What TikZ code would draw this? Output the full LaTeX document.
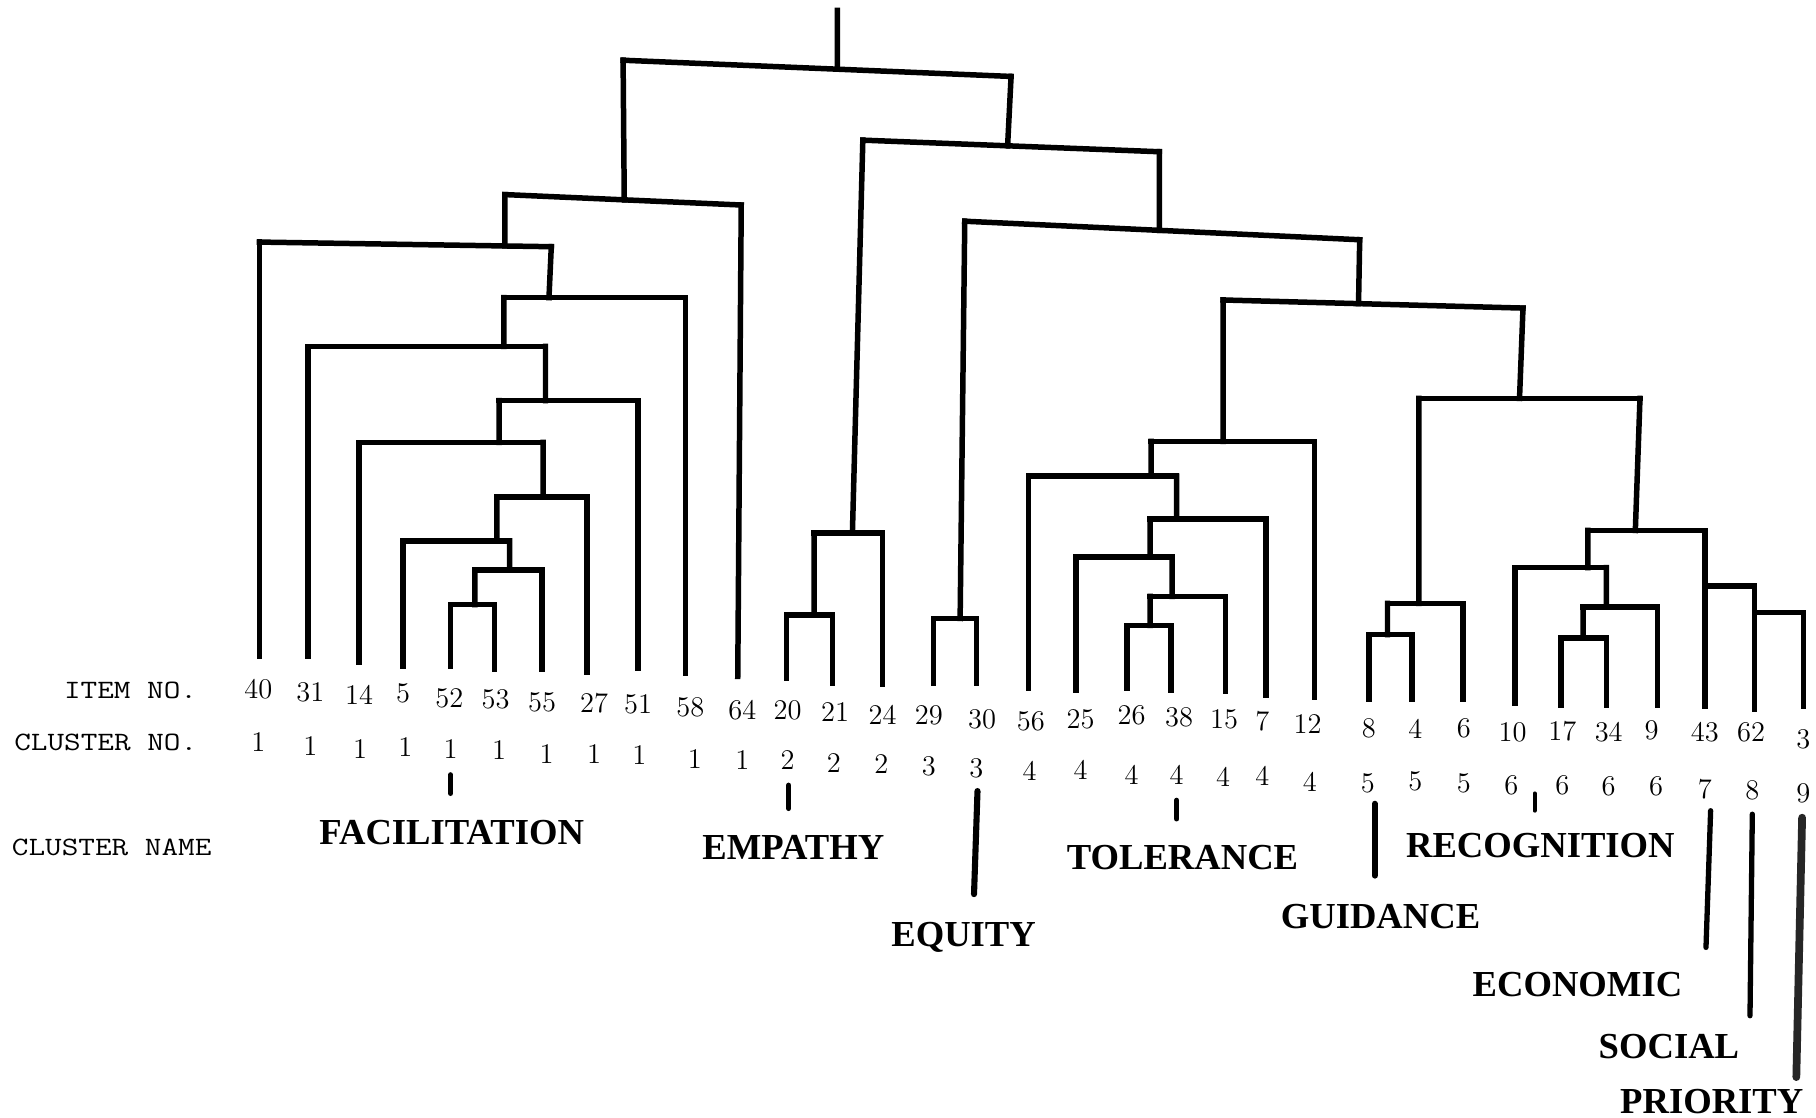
\documentclass[tikz,border=0pt]{standalone}
\usepackage{fontspec}
\usepackage{graphicx}
\usetikzlibrary{calc}
\newfontfamily\namefont{Liberation Serif}
\tikzset{
  br/.style={line width=2.7pt, line cap=rect},
  itm/.style={font=\fontsize{14}{16}\selectfont, inner sep=0pt},
  cln/.style={font=\fontsize{14}{16}\selectfont, inner sep=0pt},
  cname/.style={font=\namefont\bfseries\fontsize{18}{20}\selectfont, inner sep=0pt, anchor=base},
  hdr/.style={font=\ttfamily\fontsize{13}{15}\selectfont, inner sep=0pt, anchor=west},
  ptr/.style={line width=2.6pt, line cap=round},
}
% name, xL, yL, xR, yR, xstem
\newcommand\dmerge[6]{%
  \coordinate (#1-L) at (#2,#3);
  \coordinate (#1-R) at (#4,#5);
  \coordinate (#1-s) at ($(#1-L)!{(#6-#2)/(#4-#2)}!(#1-R)$);
  \draw[br] (#1-L) -- (#1-R);
}
% item, xleaf, ybottom, xlabel, ylabel, xcl, ycl, cluster no
\newcommand\dleaf[8]{%
  \coordinate (lf#1) at (#2,#3);
  \node[itm] (it#1) at (#4,#5) {#1};
  \node[cln] (cl#1) at (#6,#7) {#8};
}
\begin{document}
\begin{tikzpicture}[x=0.02cm,y=-0.02cm]
\fill[white] (0,0) rectangle (1568,965);
\useasboundingbox (0,0) rectangle (1568,965);

% headers
\node[hdr] (hItem) at (55,596) {\scalebox{1.22}[1]{ITEM NO.}};
\node[hdr] (hClNo) at (12,641) {\scalebox{1.22}[1]{CLUSTER NO.}};
\node[hdr] (hClName) at (10,732) {\scalebox{1.22}[1]{CLUSTER NAME}};

% leaves
\dleaf{40}{224}{567}{223}{595}{223}{641}{1}
\dleaf{31}{266}{567}{268}{598}{268}{644}{1}
\dleaf{14}{310}{572}{310}{600}{311}{647}{1}
\dleaf{5}{348}{575}{348}{599}{350}{645}{1}
\dleaf{52}{389}{575}{388}{603}{389}{647}{1}
\dleaf{53}{427}{578}{428}{604}{431}{648}{1}
\dleaf{55}{468}{578}{468}{606}{472}{651}{1}
\dleaf{27}{507}{580}{513}{607}{513}{651}{1}
\dleaf{51}{551}{577}{551}{608}{552}{652}{1}
\dleaf{58}{592}{581}{596}{611}{600}{655}{1}
\dleaf{64}{637}{584}{641}{613}{641}{656}{1}
\dleaf{20}{679}{586}{680}{613}{680}{656}{2}
\dleaf{21}{719}{590}{721}{615}{720}{659}{2}
\dleaf{24}{762}{591}{762}{617}{761}{660}{2}
\dleaf{29}{806}{590}{802}{618}{802}{662}{3}
\dleaf{30}{843}{590}{848}{621}{843}{663}{3}
\dleaf{56}{888}{594}{890}{623}{889}{666}{4}
\dleaf{25}{929}{596}{933}{621}{933}{665}{4}
\dleaf{26}{973}{594}{977}{618}{977}{669}{4}
\dleaf{38}{1011}{596}{1018}{619}{1016}{669}{4}
\dleaf{15}{1058}{597}{1057}{621}{1056}{671}{4}
\dleaf{7}{1093}{600}{1090}{623}{1090}{670}{4}
\dleaf{12}{1135}{602}{1129}{625}{1131}{675}{4}
\dleaf{8}{1182}{604}{1182}{629}{1181}{676}{5}
\dleaf{4}{1219}{604}{1222}{629}{1222}{675}{5}
\dleaf{6}{1263}{604}{1264}{629}{1264}{676}{5}
\dleaf{10}{1308}{607}{1306}{632}{1305}{678}{6}
\dleaf{17}{1348}{609}{1349}{631}{1349}{678}{6}
\dleaf{34}{1387}{609}{1389}{632}{1389}{679}{6}
\dleaf{9}{1431}{609}{1426}{631}{1430}{679}{6}
\dleaf{43}{1472}{610}{1472}{632}{1472}{681}{7}
\dleaf{62}{1515}{612}{1512}{632}{1513}{682}{8}
\dleaf{3}{1557}{610}{1557}{638}{1557}{685}{9}

% merges
\dmerge{m1}{389}{522}{427}{522}{410}
\dmerge{m2}{410}{492}{468}{492}{440}
\dmerge{m3}{348}{467}{440}{467}{429}
\dmerge{m4}{429}{429}{507}{429}{469}
\dmerge{m5}{310}{382}{469}{382}{431}
\dmerge{m6}{431}{346}{551}{346}{471}
\dmerge{m7}{266}{299}{471}{299}{435}
\dmerge{m8}{435}{257}{592}{257}{474}
\dmerge{m9}{224}{209}{476}{213}{436}
\dmerge{m10}{436}{168}{640}{177}{539}
\dmerge{e1}{679}{531}{719}{531}{703}
\dmerge{e2}{703}{460}{762}{460}{736}
\dmerge{q1}{806}{534}{843}{534}{829}
\dmerge{t1}{973}{540}{1011}{540}{993}
\dmerge{t2}{993}{515}{1058}{515}{1012}
\dmerge{t3}{929}{481}{1012}{481}{993}
\dmerge{t4}{993}{448}{1093}{448}{1016}
\dmerge{t5}{888}{411}{1016}{411}{994}
\dmerge{t6}{994}{381}{1135}{381}{1056}
\dmerge{g1}{1182}{548}{1219}{548}{1198}
\dmerge{g2}{1198}{521}{1263}{521}{1225}
\dmerge{r1}{1348}{551}{1387}{551}{1367}
\dmerge{r2}{1367}{524}{1431}{524}{1387}
\dmerge{r3}{1308}{490}{1387}{490}{1371}
\dmerge{s1}{1515}{529}{1557}{529}{1515}
\dmerge{s2}{1472}{506}{1515}{506}{1472}
\dmerge{r4}{1371}{458}{1472}{458}{1412}
\dmerge{h1}{1225}{344}{1416}{344}{1312}
\dmerge{k1}{1056}{259}{1315}{266}{1173}
\dmerge{cc}{833}{191}{1174}{207}{1001}
\dmerge{bb}{745}{121}{1001}{131}{870}
\dmerge{top}{538}{52}{873}{66}{723}
\coordinate (root) at (723,9);

% links
\draw[br] (root) -- (top-s);
\draw[br] (m1-L) -- (lf52);  \draw[br] (m1-R) -- (lf53);
\draw[br] (m2-L) -- (m1-s);  \draw[br] (m2-R) -- (lf55);
\draw[br] (m3-L) -- (lf5);   \draw[br] (m3-R) -- (m2-s);
\draw[br] (m4-L) -- (m3-s);  \draw[br] (m4-R) -- (lf27);
\draw[br] (m5-L) -- (lf14);  \draw[br] (m5-R) -- (m4-s);
\draw[br] (m6-L) -- (m5-s);  \draw[br] (m6-R) -- (lf51);
\draw[br] (m7-L) -- (lf31);  \draw[br] (m7-R) -- (m6-s);
\draw[br] (m8-L) -- (m7-s);  \draw[br] (m8-R) -- (lf58);
\draw[br] (m9-L) -- (lf40);  \draw[br] (m9-R) -- (m8-s);
\draw[br] (m10-L) -- (m9-s); \draw[br] (m10-R) -- (lf64);
\draw[br] (e1-L) -- (lf20);  \draw[br] (e1-R) -- (lf21);
\draw[br] (e2-L) -- (e1-s);  \draw[br] (e2-R) -- (lf24);
\draw[br] (q1-L) -- (lf29);  \draw[br] (q1-R) -- (lf30);
\draw[br] (t1-L) -- (lf26);  \draw[br] (t1-R) -- (lf38);
\draw[br] (t2-L) -- (t1-s);  \draw[br] (t2-R) -- (lf15);
\draw[br] (t3-L) -- (lf25);  \draw[br] (t3-R) -- (t2-s);
\draw[br] (t4-L) -- (t3-s);  \draw[br] (t4-R) -- (lf7);
\draw[br] (t5-L) -- (lf56);  \draw[br] (t5-R) -- (t4-s);
\draw[br] (t6-L) -- (t5-s);  \draw[br] (t6-R) -- (lf12);
\draw[br] (g1-L) -- (lf8);   \draw[br] (g1-R) -- (lf4);
\draw[br] (g2-L) -- (g1-s);  \draw[br] (g2-R) -- (lf6);
\draw[br] (r1-L) -- (lf17);  \draw[br] (r1-R) -- (lf34);
\draw[br] (r2-L) -- (r1-s);  \draw[br] (r2-R) -- (lf9);
\draw[br] (r3-L) -- (lf10);  \draw[br] (r3-R) -- (r2-s);
\draw[br] (s1-L) -- (lf62);  \draw[br] (s1-R) -- (lf3);
\draw[br] (s2-L) -- (lf43);  \draw[br] (s2-R) -- (s1-s);
\draw[br] (r4-L) -- (r3-s);  \draw[br] (r4-R) -- (s2-s);
\draw[br] (h1-L) -- (g2-s);  \draw[br] (h1-R) -- (r4-s);
\draw[br] (k1-L) -- (t6-s);  \draw[br] (k1-R) -- (h1-s);
\draw[br] (cc-L) -- (q1-s);  \draw[br] (cc-R) -- (k1-s);
\draw[br] (bb-L) -- (e2-s);  \draw[br] (bb-R) -- (cc-s);
\draw[br] (top-L) -- (m10-s); \draw[br] (top-R) -- (bb-s);

% cluster names
\node[cname] (nFac) at (390,729) {FACILITATION};
\node[cname] (nEmp) at (685,742) {EMPATHY};
\node[cname] (nEqu) at (832,817) {EQUITY};
\node[cname] (nTol) at (1021,751) {TOLERANCE};
\node[cname] (nGui) at (1192,802) {GUIDANCE};
\node[cname] (nRec) at (1330,740) {RECOGNITION};
\node[cname] (nEco) at (1362,860) {ECONOMIC};
\node[cname] (nSoc) at (1441,914) {SOCIAL};
\node[cname] (nPri) at (1478,961) {PRIORITY};

% pointer marks
\coordinate (pF1) at (389,669);  \coordinate (pF2) at (389,685);
\coordinate (pE1) at (681,678);  \coordinate (pE2) at (681,698);
\coordinate (pQ1) at (844,683);  \coordinate (pQ2) at (841,772);
\coordinate (pT1) at (1016,691); \coordinate (pT2) at (1016,707);
\coordinate (pG1) at (1187,694); \coordinate (pG2) at (1187,756);
\coordinate (pR1) at (1325,685); \coordinate (pR2) at (1325,700);
\coordinate (pC1) at (1477,700); \coordinate (pC2) at (1473,818);
\coordinate (pS1) at (1513,703); \coordinate (pS2) at (1511,877);
\coordinate (pP1) at (1556,706); \coordinate (pP2) at (1551,930);
\draw[ptr] (pF1) -- (pF2);
\draw[ptr] (pE1) -- (pE2);
\draw[ptr, line width=3.0pt] (pQ1) -- (pQ2);
\draw[ptr] (pT1) -- (pT2);
\draw[ptr, line width=3.0pt] (pG1) -- (pG2);
\draw[ptr, line width=1.9pt] (pR1) -- (pR2);
\draw[ptr] (pC1) -- (pC2);
\draw[ptr] (pS1) -- (pS2);
\draw[ptr, line width=3.8pt, black!85] (pP1) -- (pP2);
\end{tikzpicture}
\end{document}
